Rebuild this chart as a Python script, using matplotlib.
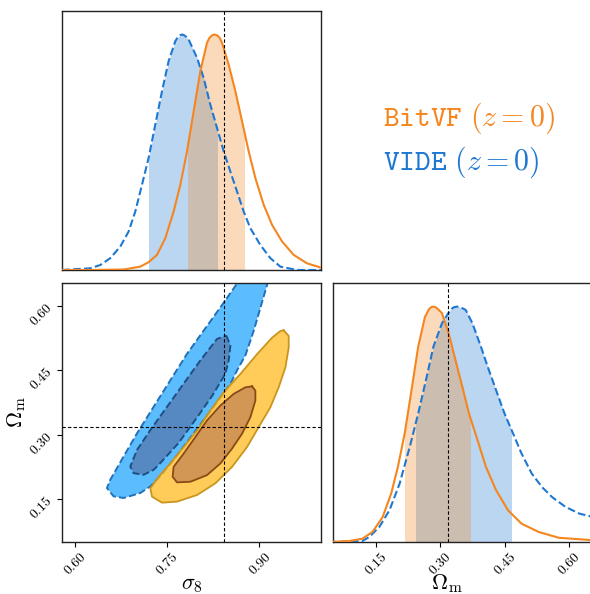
import numpy as np
import matplotlib
matplotlib.use("Agg")
import matplotlib.pyplot as plt
from matplotlib.path import Path
from matplotlib.patches import PathPatch, Rectangle
from matplotlib.colors import to_rgba

plt.rcParams['mathtext.fontset'] = 'cm'
plt.rcParams['font.family'] = 'DejaVu Serif'

# --- marginal posteriors (peak-normalised) ---
s8_grid_bitvf = [0.579, 0.6249, 0.6791, 0.7062, 0.7197, 0.7333, 0.7469, 0.7604, 0.7713,
                 0.7822, 0.7930, 0.8038, 0.8147, 0.8185, 0.8230, 0.8271, 0.8315, 0.8355,
                 0.8391, 0.8499, 0.8608, 0.8717, 0.8824, 0.8933, 0.9068, 0.9205, 0.9367,
                 0.9556, 0.9774, 1.0]
s8_pdf_bitvf = [0.0, 0.0, 0.002, 0.014, 0.033, 0.064, 0.135, 0.248, 0.362,
                0.504, 0.674, 0.844, 0.965, 0.985, 0.997, 1.0, 0.996, 0.985,
                0.965, 0.872, 0.759, 0.631, 0.504, 0.39, 0.277, 0.191, 0.121,
                0.064, 0.028, 0.01]

s8_grid_vide = [0.579, 0.6249, 0.6412, 0.6574, 0.6737, 0.6872, 0.6981, 0.7090, 0.7197,
                0.7306, 0.7415, 0.7523, 0.7632, 0.7670, 0.7710, 0.7741, 0.7775, 0.7810,
                0.7848, 0.7985, 0.8092, 0.8201, 0.8310, 0.8418, 0.8526, 0.8635, 0.8743,
                0.8852, 0.9014, 0.9177, 0.9340, 0.9612, 1.0]
s8_pdf_vide = [0.0, 0.007, 0.021, 0.05, 0.099, 0.163, 0.248, 0.362, 0.475,
               0.617, 0.759, 0.887, 0.972, 0.988, 0.997, 1.0, 0.997, 0.99,
               0.979, 0.901, 0.816, 0.702, 0.603, 0.504, 0.418, 0.333, 0.248,
               0.177, 0.106, 0.05, 0.014, 0.0, 0.0]

om_grid_bitvf = [0.040, 0.0869, 0.1183, 0.1420, 0.1656, 0.1855, 0.2011, 0.2169, 0.2328,
                 0.2484, 0.2642, 0.2740, 0.2790, 0.2838, 0.2890, 0.2940, 0.3037, 0.3193,
                 0.3351, 0.3510, 0.3666, 0.3864, 0.4061, 0.4297, 0.4574, 0.4889, 0.5285,
                 0.5758, 0.660]
om_pdf_bitvf = [0.0, 0.004, 0.014, 0.043, 0.106, 0.206, 0.319, 0.461, 0.645,
                0.83, 0.957, 0.99, 0.998, 1.0, 0.997, 0.99, 0.972, 0.887,
                0.773, 0.66, 0.546, 0.433, 0.319, 0.22, 0.135, 0.078, 0.043,
                0.018, 0.007]

om_grid_vide = [0.040, 0.1183, 0.1342, 0.1578, 0.1815, 0.2051, 0.2287, 0.2484, 0.2682,
                0.2838, 0.3037, 0.3233, 0.3310, 0.3392, 0.3470, 0.3588, 0.3746, 0.3943,
                0.4101, 0.4297, 0.4493, 0.4692, 0.4889, 0.5126, 0.5363, 0.5600, 0.5915,
                0.6231, 0.660]
om_pdf_vide = [0.0, 0.004, 0.021, 0.064, 0.135, 0.248, 0.404, 0.546, 0.702,
               0.83, 0.929, 0.986, 0.997, 1.0, 0.997, 0.986, 0.929, 0.83,
               0.745, 0.645, 0.546, 0.461, 0.376, 0.291, 0.234, 0.191, 0.149,
               0.121, 0.104]

# 68% intervals shaded under the marginals
s8_band_bitvf = (0.7833, 0.8743)
s8_band_vide = (0.7208, 0.8310)
om_band_bitvf = (0.2169, 0.3686)
om_band_vide = (0.2429, 0.4652)

# --- 2D credible contours (sigma8, Omega_m) ---
vide_95 = [(0.9145, 0.6595), (0.9015, 0.5954), (0.8905, 0.5414), (0.8770, 0.4843),
           (0.8635, 0.4495), (0.8527, 0.4181), (0.8234, 0.3609), (0.7941, 0.3053),
           (0.7648, 0.2498), (0.7388, 0.2035), (0.7225, 0.1796), (0.7062, 0.1641),
           (0.6791, 0.1525), (0.6628, 0.1565), (0.6521, 0.1757), (0.6574, 0.1949),
           (0.6791, 0.2491), (0.7009, 0.3030), (0.7279, 0.3648), (0.7550, 0.4264),
           (0.7822, 0.4882), (0.8092, 0.5421), (0.8364, 0.5963), (0.8673, 0.6595)]
vide_68 = [(0.8461, 0.5306), (0.8527, 0.5074), (0.8499, 0.4727), (0.8445, 0.4419),
           (0.8234, 0.3910), (0.7973, 0.3377), (0.7681, 0.2799), (0.7360, 0.2296),
           (0.7279, 0.2181), (0.7116, 0.2065), (0.6953, 0.2104), (0.6900, 0.2259),
           (0.7009, 0.2644), (0.7225, 0.3106), (0.7497, 0.3648), (0.7767, 0.4188),
           (0.8038, 0.4727), (0.8310, 0.5229)]
bitvf_95 = [(0.9393, 0.5430), (0.9475, 0.5299), (0.9475, 0.5028), (0.9421, 0.4565),
            (0.9312, 0.4102), (0.9177, 0.3639), (0.8987, 0.3176), (0.8798, 0.2713),
            (0.8554, 0.2250), (0.8282, 0.1866), (0.7985, 0.1595), (0.7659, 0.1440),
            (0.7415, 0.1417), (0.7253, 0.1556), (0.7225, 0.1750), (0.7360, 0.2019),
            (0.7550, 0.2329), (0.7767, 0.2713), (0.7985, 0.3100), (0.8201, 0.3562),
            (0.8417, 0.3986), (0.8689, 0.4412), (0.8961, 0.4875), (0.9205, 0.5259),
            (0.9340, 0.5414)]
bitvf_68 = [(0.8880, 0.4125), (0.8933, 0.4025), (0.8933, 0.3794), (0.8852, 0.3407),
            (0.8717, 0.3023), (0.8554, 0.2676), (0.8364, 0.2329), (0.8147, 0.2058),
            (0.7876, 0.1903), (0.7659, 0.1889), (0.7588, 0.2019), (0.7604, 0.2250),
            (0.7767, 0.2560), (0.7957, 0.2944), (0.8147, 0.3331), (0.8364, 0.3678),
            (0.8580, 0.3949), (0.8770, 0.4102)]

truth_s8 = 0.842
truth_om = 0.3175

s8_ticks = [0.60, 0.75, 0.90]
om_ticks = [0.15, 0.30, 0.45, 0.60]
s8_lim = (0.579, 1.0)
om_lim = (0.05, 0.653)

ORANGE = '#F5861F'
BLUE = '#1E78D2'

fig = plt.figure(figsize=(5.9, 5.94), dpi=100)
ax_s8 = fig.add_axes([0.1051, 0.5455, 0.4390, 0.4360])
ax_2d = fig.add_axes([0.1051, 0.0875, 0.4390, 0.4360])
ax_om = fig.add_axes([0.5644, 0.0875, 0.4390, 0.4360])

for ax in (ax_s8, ax_2d, ax_om):
    for sp in ax.spines.values():
        sp.set_color('#222222')
        sp.set_linewidth(1.0)
    ax.tick_params(direction='out', length=3.5, width=0.8, labelsize=10, pad=1.5)


def marginal(ax, x, y, band, color, ls):
    x = np.asarray(x)
    y = np.asarray(y)
    fill = ax.fill_between(x, 0, y, color=color, alpha=0.3, lw=0, zorder=1)
    clip = Rectangle((band[0], -1), band[1] - band[0], 3, transform=ax.transData)
    fill.set_clip_path(clip)
    ax.plot(x, y, color=color, ls=ls, lw=1.5, zorder=3)


marginal(ax_s8, s8_grid_vide, s8_pdf_vide, s8_band_vide, BLUE, '--')
marginal(ax_s8, s8_grid_bitvf, s8_pdf_bitvf, s8_band_bitvf, ORANGE, '-')
marginal(ax_om, om_grid_vide, om_pdf_vide, om_band_vide, BLUE, '--')
marginal(ax_om, om_grid_bitvf, om_pdf_bitvf, om_band_bitvf, ORANGE, '-')

truth_style = dict(color='k', lw=0.8, ls=(0, (3, 2)), zorder=5)
ax_s8.axvline(truth_s8, **truth_style)
ax_om.axvline(truth_om, **truth_style)
ax_2d.axvline(truth_s8, **truth_style)
ax_2d.axhline(truth_om, **truth_style)

ax_s8.set_xlim(*s8_lim)
ax_s8.set_ylim(0, 1.1)
ax_s8.set_xticks(s8_ticks)
ax_s8.set_yticks([])
ax_s8.tick_params(labelbottom=False, length=0)

ax_om.set_xlim(*om_lim)
ax_om.set_ylim(0, 1.1)
ax_om.set_yticks([])
ax_om.set_xticks(om_ticks)
ax_om.set_xticklabels([f'${t:.2f}$' for t in om_ticks], rotation=45)


def ring(outer, inner):
    outer = np.asarray(outer)
    inner = np.asarray(inner)[::-1]
    return Path.make_compound_path(Path(outer, closed=False), Path(inner, closed=False))


def closed(pts):
    pts = np.asarray(pts)
    return np.vstack([pts, pts[:1]])


# VIDE contours (opaque, dashed edges)
ax_2d.fill(*np.asarray(vide_95).T, color='#5CBDFE', lw=0, zorder=1)
ax_2d.fill(*np.asarray(vide_68).T, color='#5689C1', lw=0, zorder=1)
ax_2d.plot(*closed(vide_95).T, color='#2170B8', lw=1.4, ls='--', zorder=2)
ax_2d.plot(*closed(vide_68).T, color='#1F4F80', lw=1.4, ls='--', zorder=2)

# BitVF contours (semi-transparent, solid edges)
ax_2d.add_patch(PathPatch(ring(bitvf_95, bitvf_68), facecolor=to_rgba('#FFBB23', 0.75),
                          edgecolor='none', zorder=3))
ax_2d.fill(*np.asarray(bitvf_68).T, color=to_rgba('#C3731C', 0.75), lw=0, zorder=3)
ax_2d.plot(*closed(bitvf_95).T, color='#C8961E', lw=1.3, zorder=4)
ax_2d.plot(*closed(bitvf_68).T, color='#8B4A14', lw=1.3, zorder=4)

ax_2d.set_xlim(*s8_lim)
ax_2d.set_ylim(*om_lim)
ax_2d.set_xticks(s8_ticks)
ax_2d.set_xticklabels([f'${t:.2f}$' for t in s8_ticks], rotation=45)
ax_2d.set_yticks(om_ticks)
ax_2d.set_yticklabels([f'${t:.2f}$' for t in om_ticks], rotation=45)

ax_2d.set_xlabel(r'$\sigma_8$', fontsize=16)
ax_2d.xaxis.set_label_coords(0.5, -0.12)
ax_2d.set_ylabel(r'$\Omega_{\rm m}$', fontsize=16)
ax_2d.yaxis.set_label_coords(-0.13, 0.5)
ax_om.set_xlabel(r'$\Omega_{\rm m}$', fontsize=16)
ax_om.xaxis.set_label_coords(0.44, -0.118)

fig.text(383 / 590, 1 - 118 / 594, r'$\mathtt{BitVF}\ (z=0)$', color=ORANGE,
         fontsize=21.5, va='center', ha='left')
fig.text(383 / 590, 1 - 162 / 594, r'$\mathtt{VIDE}\ (z=0)$', color=BLUE,
         fontsize=21.5, va='center', ha='left')

fig.savefig('out.png', dpi=100)
